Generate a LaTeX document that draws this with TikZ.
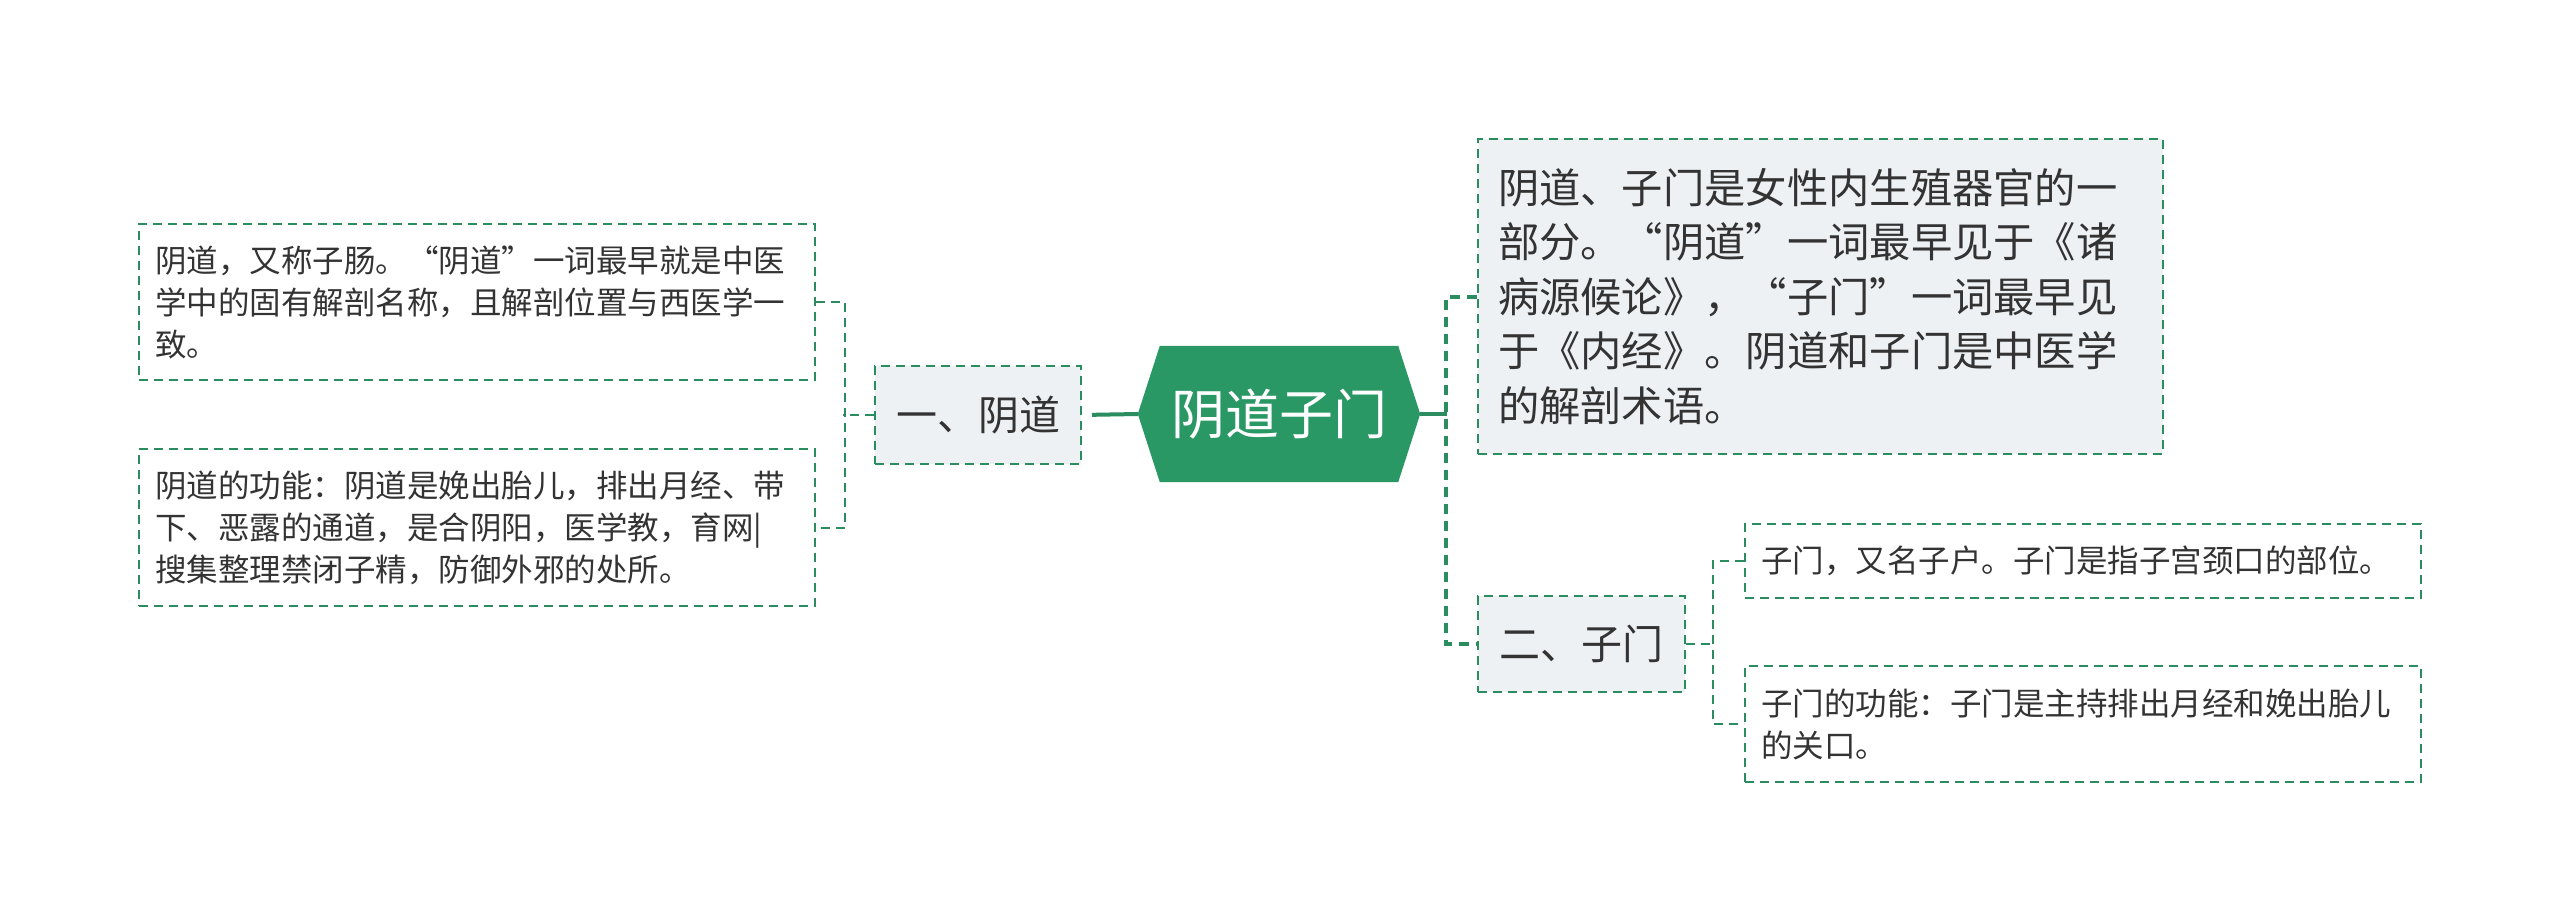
\documentclass[tikz,border=0pt]{standalone}
\usepackage{fontspec}
\setmainfont{Noto Sans CJK SC}
\usetikzlibrary{backgrounds}
\definecolor{lineg}{RGB}{42,140,95}
\definecolor{hexg}{RGB}{42,152,100}
\definecolor{boxgray}{RGB}{238,241,244}
\definecolor{txt}{RGB}{51,51,51}
\tikzset{
  thindash/.style={draw=lineg,line width=2pt,dash pattern=on 9pt off 6pt},
  thickdash/.style={draw=lineg,line width=4pt,dash pattern=on 10pt off 7pt},
  rootline/.style={draw=lineg,line width=4pt},
  leaf/.style={thindash,fill=white,text=txt,align=left,inner xsep=16pt,inner ysep=0pt,
    font=\fontsize{31.5}{42}\selectfont,anchor=center},
  bigleaf/.style={thindash,fill=boxgray,text=txt,align=left,inner xsep=20pt,inner ysep=0pt,
    font=\fontsize{41.3}{54.5}\selectfont,anchor=center},
  sub/.style={thindash,fill=boxgray,text=txt,align=center,inner sep=0pt,
    font=\fontsize{41}{48}\selectfont,anchor=center},
}
\begin{document}
\begin{tikzpicture}[x=1pt,y=-1pt]
\useasboundingbox (0,0) rectangle (2560,921);
% root
\node[inner sep=0pt,minimum width=282pt,minimum height=136pt,text=white,
  font=\fontsize{54}{60}\selectfont] (root) at (1279,414) {阴道子门};
\begin{scope}[on background layer]
\fill[white] (0,0) rectangle (2560,921);
\fill[hexg] (root.west) -- ([xshift=22pt]root.north west) -- ([xshift=-22pt]root.north east)
  -- (root.east) -- ([xshift=-22pt]root.south east) -- ([xshift=22pt]root.south west) -- cycle;
\end{scope}
% left
\node[sub,minimum width=206pt,minimum height=98pt] (yd) at (978,415) {一、阴道};
\node[leaf,text width=644pt,minimum height=156pt] (L1) at (477,302)
  {阴道，又称子肠。“阴道”一词最早就是中医\\学中的固有解剖名称，且解剖位置与西医学一\\致。};
\node[leaf,text width=644pt,minimum height=157pt] (L2) at (477,527.5)
  {阴道的功能：阴道是娩出胎儿，排出月经、带\\下、恶露的通道，是合阴阳，医学教，育网|\\搜集整理禁闭子精，防御外邪的处所。};
% right
\node[bigleaf,text width=645pt,minimum height=315pt] (R1) at (1820.5,296.5)
  {阴道、子门是女性内生殖器官的一\\部分。“阴道”一词最早见于《诸\\病源候论》，“子门”一词最早见\\于《内经》。阴道和子门是中医学\\的解剖术语。};
\node[sub,minimum width=207pt,minimum height=96pt] (zm) at (1581.5,644) {二、子门};
\node[leaf,text width=644pt,minimum height=74pt] (R2) at (2083,561)
  {子门，又名子户。子门是指子宫颈口的部位。};
\node[leaf,text width=644pt,minimum height=116pt] (R3) at (2083,724)
  {子门的功能：子门是主持排出月经和娩出胎儿\\的关口。};
% connectors
\draw[rootline,shorten >=10pt] (root.west) -- (yd.east);
\draw[thindash] (L1.east) -- ++(29,0) |- (L2.east);
\draw[thindash] (yd.west) -- ++(-31,0);
\draw[rootline] (root.east) -- ++(27,0);
\draw[thickdash] (R1.west) -- ++(-31,0) |- (zm.west);
\draw[thindash] (R2.west) -- ++(-31,0) |- (R3.west);
\draw[thindash] (zm.east) -- ++(29,0);
\end{tikzpicture}
\end{document}
